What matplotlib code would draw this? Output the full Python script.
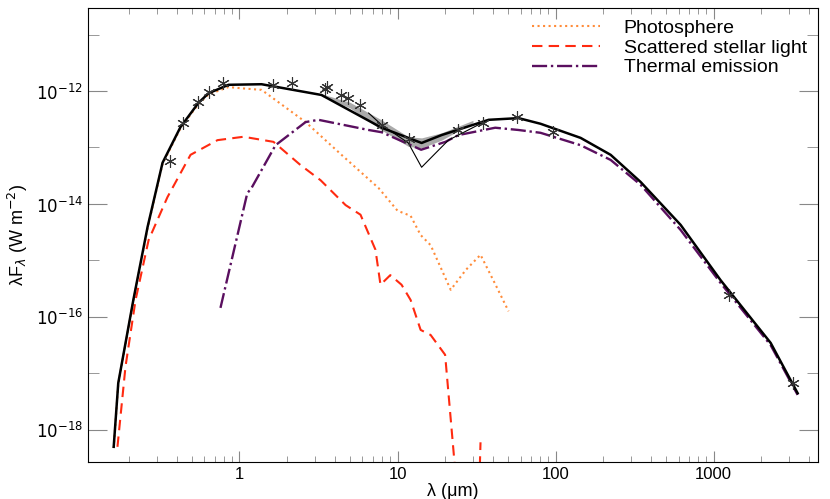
import numpy as np
import matplotlib
matplotlib.use("Agg")
import matplotlib.pyplot as plt
from matplotlib.ticker import FixedLocator, FuncFormatter, NullFormatter, LogLocator

plt.rcParams['font.family'] = 'Liberation Sans'

# total model (wavelength um, log10 flux W m^-2)
tot_lam = [0.160,0.171,0.213,0.262,0.326,0.423,0.55,0.637,0.852,1.38,3.30,7.93,14.2,19.0,37.7,58.3,80.3,144,223,345,618,1107,2295,3400]
tot_logf = [-18.30,-17.17,-15.70,-14.41,-13.27,-12.64,-12.21,-12.04,-11.89,-11.88,-12.07,-12.65,-12.92,-12.78,-12.51,-12.48,-12.58,-12.83,-13.13,-13.61,-14.37,-15.35,-16.46,-17.35]

phot_lam = [0.160,0.171,0.213,0.262,0.326,0.423,0.55,0.637,0.852,1.01,1.38,1.69,2.62,4.42,7.6,10,12.1,14,16.2,21.7,27.0,33.5,41.7,50.4]
phot_logf = [-18.32,-17.19,-15.72,-14.43,-13.29,-12.66,-12.23,-12.06,-11.93,-11.95,-11.98,-12.16,-12.55,-13.13,-13.72,-14.12,-14.21,-14.55,-14.73,-15.52,-15.17,-14.90,-15.43,-15.90]

scat_lam = [0.169,0.19,0.22,0.266,0.35,0.49,0.726,1.06,1.64,2.43,3.26,4.69,5.83,7.25,7.8,9.0,10.6,12.1,14,16.2,20,24.5,28,32.5,33.5]
scat_logf = [-18.30,-16.88,-15.70,-14.64,-13.88,-13.13,-12.87,-12.81,-12.90,-13.31,-13.58,-14.02,-14.19,-14.81,-15.43,-15.26,-15.43,-15.70,-16.23,-16.32,-16.67,-19.5,np.nan,-19.5,-18.22]

therm_lam = [0.758,1.12,1.19,1.69,2.62,3.16,6.56,7.93,14.1,20.1,24.3,41.5,58.2,80.3,144,223,345,618,1107,2295,3400]
therm_logf = [-15.84,-13.81,-13.72,-12.96,-12.55,-12.51,-12.69,-12.73,-13.04,-12.90,-12.78,-12.65,-12.69,-12.74,-12.96,-13.22,-13.66,-14.46,-15.40,-16.50,-17.38]

thin_lam = [6.56,7.93,11.7,14.2,17.4,21.0,34.0]
thin_logf = [-12.39,-12.60,-12.92,-13.35,-13.10,-12.87,-12.57]

band_lam = [3.3,5,7.9,11.7,14.2,19,30]
band_hi = [-12.05,-12.2,-12.51,-12.81,-12.83,-12.74,-12.52]
band_lo = [-12.09,-12.3,-12.69,-12.98,-13.01,-12.87,-12.56]

obs_lam = [0.361,0.442,0.55,0.646,0.79,1.64,2.16,3.56,3.50,4.42,4.83,5.83,7.93,11.9,24.3,34.5,57.4,95.7,1244,3160]
obs_logf = [-13.24,-12.57,-12.19,-12.02,-11.86,-11.89,-11.86,-11.93,-11.96,-12.07,-12.12,-12.25,-12.60,-12.85,-12.69,-12.57,-12.46,-12.73,-15.62,-17.17]

p = lambda a: 10**np.array(a, dtype=float)

fig = plt.figure(figsize=(8.3, 4.99), dpi=100)
ax = fig.add_axes([0.106, 0.074, 0.88, 0.91])
ax.fill_between(band_lam, p(band_lo), p(band_hi), color='#aaaaaa', lw=0)
ax.plot(phot_lam, p(phot_logf), ':', color='#ff8c3a', lw=1.5, label='Photosphere')
ax.plot(scat_lam, p(scat_logf), '--', color='#ff2a10', lw=1.5, dashes=(5,3), label='Scattered stellar light')
ax.plot(therm_lam, p(therm_logf), '-.', color='#5a0f5f', lw=1.7, label='Thermal emission')
ax.plot(thin_lam, p(thin_logf), '-', color='black', lw=0.8)
ax.plot(tot_lam, p(tot_logf), '-', color='black', lw=1.8)
ax.plot(obs_lam, p(obs_logf), color='#333333', ms=9, mew=0.8, linestyle='none', marker=(6,2,0))

ax.set_xscale('log'); ax.set_yscale('log')
ax.set_xlim(0.11, 4600)
ax.set_ylim(10**-18.57, 10**-10.53)
ax.set_xticks([1,10,100,1000]); ax.set_xticklabels(['1','10','100','1000'])
ax.xaxis.set_minor_locator(LogLocator(base=10, subs=[2,3,4,5,6,7,8,9], numticks=20))
ax.xaxis.set_minor_formatter(NullFormatter())
ax.yaxis.set_major_locator(FixedLocator([1e-18,1e-16,1e-14,1e-12]))
ax.yaxis.set_major_formatter(FuncFormatter(lambda v, pos: r'$10^{%d}$' % round(np.log10(v))))
ax.yaxis.set_minor_locator(FixedLocator([1e-17,1e-15,1e-13,1e-11]))
ax.yaxis.set_minor_formatter(NullFormatter())
ax.tick_params(which='both', direction='in', top=True, right=True, labelsize=12, color='#888888')
ax.tick_params(which='major', length=8)
ax.tick_params(which='minor', length=4)
ax.tick_params(axis='y', which='minor', length=8)
ax.tick_params(axis='y', which='major', length=14)
for s in ax.spines.values(): s.set_linewidth(0.8)
ax.set_xlabel(r'λ (μm)', fontsize=13, labelpad=1)
ax.set_ylabel(r'λF$_\lambda$ (W m$^{-2}$)', fontsize=13)
ax.legend(loc='upper right', frameon=False, fontsize=14, handlelength=3.5, handletextpad=1.2, labelspacing=0.1, borderaxespad=0.2)
fig.savefig('out.png', dpi=100)
